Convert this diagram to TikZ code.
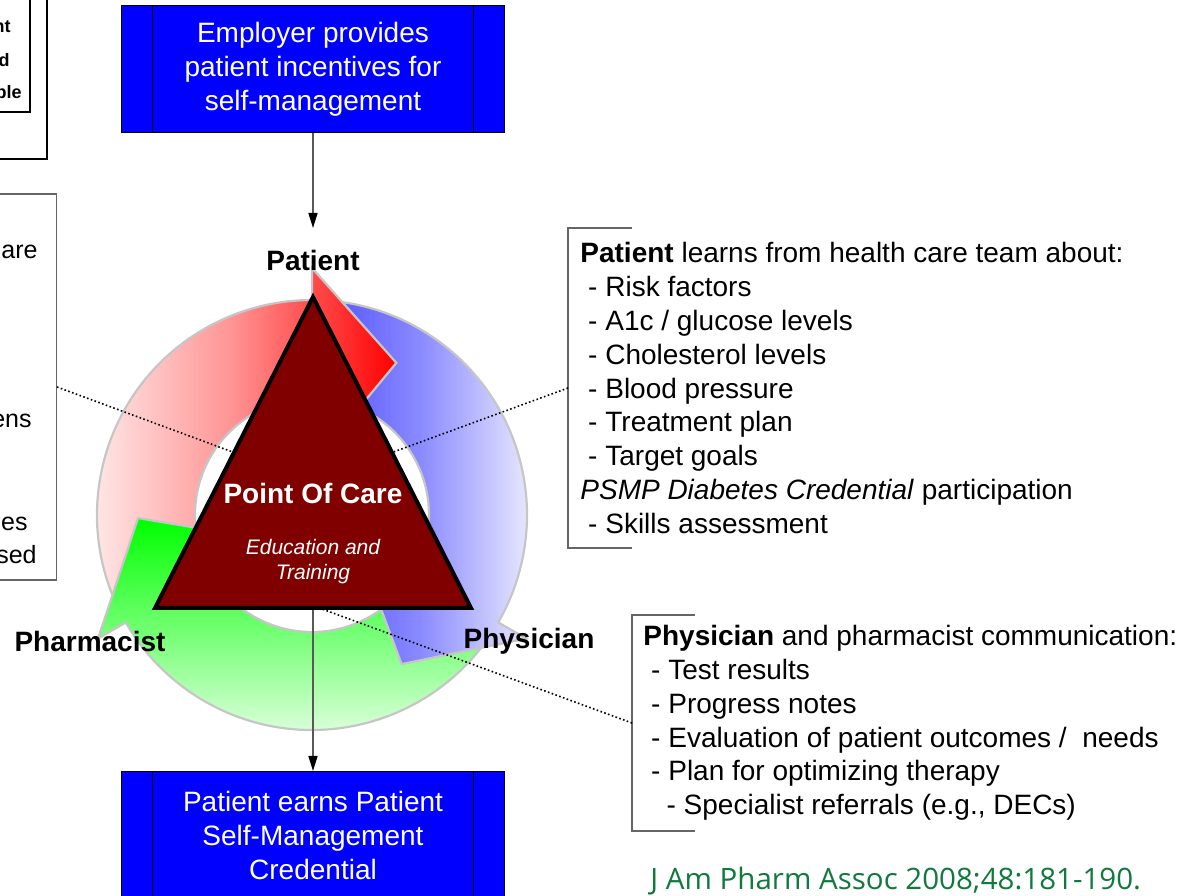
\documentclass[tikz,border=0pt]{standalone}
\usepackage{fontspec}
\setmainfont{Liberation Sans}
\newfontfamily\citefont{Open Sans}
\usetikzlibrary{arrows.meta,calc}
\definecolor{poc}{HTML}{800000}
\definecolor{boxblue}{HTML}{0000FF}
\definecolor{ringline}{HTML}{C6C6C6}
\definecolor{citegreen}{HTML}{107A3C}
\newcommand\ringR{215}
\newcommand\ringr{117}
\newcommand\cycarrow[2]{(#1:\ringR) arc[start angle=#1, end angle=#2, radius=\ringR] -- (#2:247) -- ({#2-29}:174) -- (#2:50) -- (#2:\ringr) arc[start angle=#2, end angle=#1, radius=\ringr]}

\begin{document}
\begin{tikzpicture}[x=.5pt, y=.5pt,
  bluebox/.style={draw=black, line width=.5pt, fill=boxblue, text=white, align=center,
    minimum width=191.5pt, minimum height=63.5pt, font=\fontsize{14}{17}\selectfont,
    path picture={\draw[line width=.5pt]
      ([xshift=15.5pt]path picture bounding box.north west) -- ([xshift=15.5pt]path picture bounding box.south west)
      ([xshift=-15.5pt]path picture bounding box.north east) -- ([xshift=-15.5pt]path picture bounding box.south east);}},
  role/.style={font=\bfseries\fontsize{14}{17}\selectfont},
  note/.style={anchor=west, align=left, inner ysep=0pt, font=\fontsize{14}{16.9}\selectfont},
  bracket/.style={draw=black!60, line width=.7pt},
  cut/.style={anchor=base east, inner sep=0pt, font=\fontsize{12.5}{15}\selectfont},
  cutsmall/.style={cut, font=\bfseries\fontsize{9}{11}\selectfont},
  frame/.style={draw=black, line width=.8pt},
  arr/.style={draw=black!65, line width=.8pt, -{Triangle[length=7.5pt, width=4.5pt, color=black]}},
  link/.style={line width=.8pt, dash pattern=on .8pt off 1.2pt},
  band/.style={draw=ringline, line width=1.1pt},
  blueshade/.style={left color=blue!70, right color=blue!10, middle color=blue!46},
  redshade/.style={left color=red!3, right color=red, middle color=red!42},
  greenshade/.style={top color=green, bottom color=green!3}]
\useasboundingbox (0,0) rectangle (1200,895);

% boxes cut off at the left edge
\node[frame, minimum width=50pt, minimum height=100pt, anchor=south east] (outerbox) at (48,735) {};
\node[frame, minimum width=40pt, minimum height=80pt, anchor=south east] (innerbox) at (31,782) {};
\node[cutsmall] (cuta) at (11,862) {nt};
\node[cutsmall] (cutb) at (10,828) {d};
\node[cutsmall] (cutc) at (22,796) {ple};
\node[draw=black!60, line width=.7pt, minimum width=60pt, minimum height=193pt, anchor=east] (leftbox) at (57,508) {};
\node[cut] (cutd) at (38,636.5) {are};
\node[cut] (cute) at (32,467.5) {ens};
\node[cut] (cutf) at (28,364.5) {es};
\node[cut] (cutg) at (37,331) {sed};

\node[bluebox] (employer) at (313,825.5) {Employer provides\\patient incentives for\\self-management};
\node[bluebox] (credential) at (313,60) {Patient earns Patient\\Self-Management\\Credential};

% cycle of arrows
\begin{scope}[shift={(312,380)}]
  \shade[blueshade] \cycarrow{90}{-30} -- cycle;
  \draw[band] \cycarrow{90}{-30};
  \shade[redshade] \cycarrow{210}{90} -- cycle;
  \draw[band] \cycarrow{210}{90};
  \shade[greenshade] \cycarrow{330}{210} -- cycle;
  \draw[band] \cycarrow{330}{210};
  \begin{scope}
    \clip (-30:247) -- (-59:174) -- (-30:50) -- cycle;
    \shade[blueshade] \cycarrow{90}{-30} -- cycle;
  \end{scope}
  \draw[band] (-30:\ringR) -- (-30:247) -- (-59:174) -- (-30:50);
\end{scope}

\coordinate (apex) at (313,598);
\coordinate (bl) at (155,287);
\coordinate (br) at (471,287);
\coordinate (pocbase) at ($(bl)!.5!(br)$);
\coordinate (ptop) at (313,667);
\draw[arr] (employer) -- (ptop);
\draw[arr] (pocbase) -- (credential);
\draw[line width=2pt, fill=poc] (apex) -- (bl) -- (br) -- cycle;
\node[text=white, role] (poctitle) at (313,402) {Point Of Care};
\node[text=white, align=center, font=\itshape\fontsize{10.5}{12.5}\selectfont] (pocsub) at (313,333.5) {Education and\\Training};

\node[role] (patientlbl) at (313,635) {Patient};
\node[role] (pharmlbl) at (90,254) {Pharmacist};
\node[role] (physlbl) at (529,254) {Physician};

\node[note, inner xsep=6pt] (patbox) at (568,507) {\textbf{Patient} learns from health care team about:\\
  \hspace*{.28em}- Risk factors\\
  \hspace*{.28em}- A1c / glucose levels\\
  \hspace*{.28em}- Cholesterol levels\\
  \hspace*{.28em}- Blood pressure\\
  \hspace*{.28em}- Treatment plan\\
  \hspace*{.28em}- Target goals\\
  \textit{PSMP Diabetes Credential} participation\\
  \hspace*{.28em}- Skills assessment};
\draw[bracket] ([shift={(64,160)}]patbox.west) -- ([shift={(0,160)}]patbox.west) -- ([shift={(0,-160)}]patbox.west) -- ([shift={(64,-160)}]patbox.west);

\node[note, inner xsep=5.5pt] (physbox) at (632,172) {\textbf{Physician} and pharmacist communication:\\
  \hspace*{.28em}- Test results\\
  \hspace*{.28em}- Progress notes\\
  \hspace*{.28em}- Evaluation of patient outcomes /\ \ needs\\
  \hspace*{.28em}- Plan for optimizing therapy\\
  \hspace*{.83em}- Specialist referrals (e.g., DECs)};
\draw[bracket] ([shift={(63,108)}]physbox.west) -- ([shift={(0,108)}]physbox.west) -- ([shift={(0,-108)}]physbox.west) -- ([shift={(63,-108)}]physbox.west);

\draw[link] (leftbox.east) -- ($(apex)!.5!(bl)$);
\draw[link] (patbox.west) -- ($(apex)!.5!(br)$);
\draw[link] (physbox.west) -- ($(bl)!.52!(br)$);

\node[anchor=base west, inner sep=0pt, text=citegreen, font=\citefont\fontsize{14.75}{17}\selectfont] (cite) at (650,6) {J Am Pharm Assoc 2008;48:181-190.};
\end{tikzpicture}
\end{document}
